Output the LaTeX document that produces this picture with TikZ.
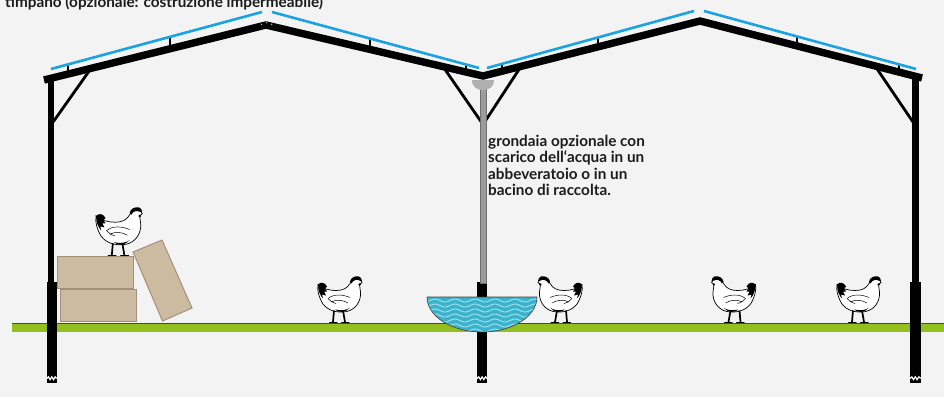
\documentclass[tikz,border=0pt]{standalone}
\usepackage{fontspec}
\setmainfont{Lato}
\usetikzlibrary{calc}

\definecolor{bgc}{HTML}{F3F3F3}
\definecolor{roofblue}{HTML}{1AA3E0}
\definecolor{grass}{HTML}{93C01F}
\definecolor{grassedge}{HTML}{4A4A3A}
\definecolor{boxfill}{HTML}{CDBBA1}
\definecolor{boxedge}{HTML}{A48F7B}
\definecolor{water}{HTML}{3BB3CC}
\definecolor{wave}{HTML}{A6E2EC}
\definecolor{pipe}{HTML}{9C9C9C}
\definecolor{pipeedge}{HTML}{6E6E6E}
\definecolor{pipecap}{HTML}{B0B0B0}
\definecolor{ink}{HTML}{1C1C1C}

\tikzset{
  roofline/.style={line width=7.4pt, line join=miter, miter limit=10},
  cover/.style={roofblue, line width=2.6pt},
  purlin/.style={line width=1.4pt},
  brace/.style={line width=2.8pt},
  crate/.style={fill=boxfill, draw=boxedge, line width=1pt},
  txt/.style={font=\fontsize{15.3}{16.4}\selectfont\bfseries, text=ink, inner sep=0pt, align=left},
  postbreak/.style={white, line width=1.2pt},
  pics/hen/.style={code={
    % body
    \draw[fill=white, line width=0.7pt]
      (1,8) .. controls (5,12) and (12,14) .. (19,14)
      .. controls (26,14) and (30,12) .. (33,7)
      .. controls (35,3) and (38,1) .. (41,2)
      .. controls (43,3) and (44,4) .. (45,6) -- (43,7.5)
      .. controls (42,10) and (44,14) .. (43.5,19)
      .. controls (42.5,28) and (36,35) .. (26,35.5)
      .. controls (16,36) and (8,32) .. (4.5,25)
      .. controls (2,20) and (0,14) .. (1,8) -- cycle;
    % tail feathers
    \fill (1,8) .. controls (4,5) and (8,6) .. (10,10) -- (8,12) -- (10,15) -- (7,15)
      -- (9,19) -- (5,18) -- (6,22) .. controls (3,19) and (1,14) .. (1,8) -- cycle;
    % comb and wattle
    \fill (33,5) .. controls (34,1) and (38,-1) .. (42,0) -- (44,1.5) -- (45,4.5) -- (42.5,4)
      .. controls (40,2.5) and (36,3.5) .. (34.5,7) -- cycle;
    \fill (42.6,8) circle (1.3);
    % wing
    \draw[line width=0.5pt] (11,22) .. controls (17,17) and (26,18) .. (33,21);
    \draw[line width=0.5pt] (14,25.5) .. controls (20,22.5) and (26,23.5) .. (31,26.5);
    \draw[line width=0.5pt] (11,22) .. controls (13,24) and (15,26) .. (19,27);
    % underside shading
    \fill (18,33) .. controls (22,37) and (29,36) .. (33,31) .. controls (30,33.5) and (25,34.5) .. (18,33) -- cycle;
    % legs and toes
    \draw[line width=1.7pt] (17,34) -- (16,45.5);
    \draw[line width=1.7pt] (26,34) -- (28,45.5);
    \draw[line width=1pt, line cap=round] (12.5,46) -- (20,46);
    \draw[line width=1pt, line cap=round] (24.5,46) -- (32,46);
  }}
}

\begin{document}
\begin{tikzpicture}[x=1pt,y=-1pt]
\fill[bgc] (0,0) rectangle (944,397);
\useasboundingbox (0,0) rectangle (944,397);

% roof frame points
\coordinate (eL) at (44,80);
\coordinate (pk1) at (266,25);
\coordinate (vl) at (483,76);
\coordinate (pk2) at (700,21);
\coordinate (eR) at (922,78);

% ground strip
\fill[grass] (12,323) rectangle (944,332);
\draw[grassedge, line width=0.8pt] (12,323.4) -- (944,323.4);

% crates
\draw[crate] (60,289) rectangle (136,321.5);
\draw[crate] (57.5,256) rectangle (133,288);
\draw[crate] (133,252) -- (162,240) -- (192,308) -- (162.5,321) -- cycle;

% posts with foundations
\fill (48,78) rectangle (54.3,283);
\fill (46.7,282) rectangle (56.7,383);
\fill (911.7,78) rectangle (919,283);
\fill (910,282) rectangle (920.7,383);
\fill (477,282) rectangle (487,383);
\draw[postbreak] (46.7,378.5) -- (48.4,376.8) -- (50.1,379.6) -- (51.8,376.8) -- (53.5,379.6) -- (55.2,376.8) -- (56.7,378.5);
\draw[postbreak] (910,378.5) -- (911.8,376.8) -- (913.5,379.6) -- (915.3,376.8) -- (917.1,379.6) -- (918.9,376.8) -- (920.7,378.5);
\draw[postbreak] (477,378.5) -- (478.7,376.8) -- (480.4,379.6) -- (482.1,376.8) -- (483.8,379.6) -- (485.5,376.8) -- (487,378.5);

% knee braces
\coordinate (brL1) at (91,68.4);  \coordinate (brL2) at (51,125);
\coordinate (brM1) at (443,66.6); \coordinate (brM2) at (482,123);
\coordinate (brN1) at (521,66.4); \coordinate (brN2) at (484,123);
\coordinate (brR1) at (875,65.9); \coordinate (brR2) at (915,125);
\draw[brace] (brL1) -- (brL2);
\draw[brace] (brM1) -- (brM2);
\draw[brace] (brN1) -- (brN2);
\draw[brace] (brR1) -- (brR2);

% downpipe with gutter cap
\draw[fill=pipe, draw=pipeedge, line width=0.6pt] (480,84) rectangle (486.5,283);
\fill[pipecap] (472,80) .. controls (472,87) and (477,90) .. (483,90)
  .. controls (489,90) and (494,87) .. (494,80) -- cycle;

% water trough
\begin{scope}
  \clip (427,297) .. controls (427,316.3) and (451.6,332) .. (482,332)
    .. controls (512.4,332) and (537,316.3) .. (537,297) -- cycle;
  \fill[water] (420,290) rectangle (545,340);
  \foreach \yy in {300.5,305.5,310.5,315.5,320.5,325.5,330.5}
    \draw[wave, line width=0.9pt] plot[domain=424:540, samples=70] (\x, {\yy + 1.5*sin(\x*18)});
\end{scope}
\draw[line width=0.6pt, draw=black!75] (427,297) .. controls (427,316.3) and (451.6,332) .. (482,332)
  .. controls (512.4,332) and (537,316.3) .. (537,297) -- cycle;

% purlins between roof and cladding
\draw[purlin] (68,64.4) -- (68,74);
\draw[purlin] (170,36.9) -- (170,48.8);
\draw[purlin] (370,38.5) -- (370,49.4);
\draw[purlin] (466,64.5) -- (466,72);
\draw[purlin] (502,63.9) -- (502,71.2);
\draw[purlin] (598,37.4) -- (598,46.9);
\draw[purlin] (797,36.4) -- (797,45.9);
\draw[purlin] (899,64.3) -- (899,72.1);

% roof cladding
\draw[cover] (51,69) -- (262,12);
\draw[cover] (272,12) -- (479,68);
\draw[cover] (487,68) -- (694,11);
\draw[cover] (704,11) -- (916,69);

% roof rafters
\draw[roofline] (eL) -- (pk1) -- (vl) -- (pk2) -- (eR);
\fill[white] (261.7,24.2) circle (0.6) (266.7,22.8) circle (0.6) (271.7,24.2) circle (0.6);

% hens
\pic[scale=1.05] at (95,207.5) {hen};
\pic at (317,276.5) {hen};
\pic[xscale=-1] at (583,276.5) {hen};
\pic[xscale=-1] at (756.5,276.5) {hen};
\pic at (836,276.5) {hen};

% labels
\node[txt, anchor=base west] (title) at (5,7.5) {timpano (opzionale: costruzione impermeabile)};
\node[txt, anchor=north west] (gutter) at (488,135) {grondaia opzionale con\\scarico dell‘acqua in un\\abbeveratoio o in un\\bacino di raccolta.};
\end{tikzpicture}
\end{document}
